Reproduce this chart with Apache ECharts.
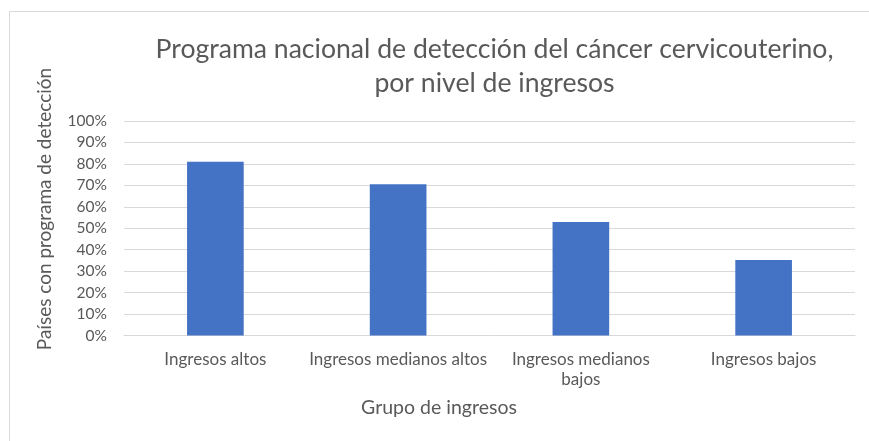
<!DOCTYPE html>
<html><head><meta charset="utf-8">
<script src="https://cdn.jsdelivr.net/npm/echarts@6/dist/echarts.min.js"></script>
<style>html,body{margin:0;padding:0;background:#fff}#c{width:869px;height:441px}</style>
</head><body><div id="c"></div>
<script>
const titleText = 'Programa nacional de detección del cáncer cervicouterino,\npor nivel de ingresos';
const categories = ['Ingresos altos', 'Ingresos medianos altos', 'Ingresos medianos bajos', 'Ingresos bajos'];
const values = [0.81, 0.705, 0.529, 0.352];
const yTicks = [0, 0.1, 0.2, 0.3, 0.4, 0.5, 0.6, 0.7, 0.8, 0.9, 1.0];
const xTitle = 'Grupo de ingresos';
const yTitle = 'Países con programa de detección';

const FONT = 'Lato';
const chart = echarts.init(document.getElementById('c'), null, {renderer: 'canvas'});
chart.setOption({
  backgroundColor: '#fff',
  animation: false,
  title: {
    text: titleText, left: 489.5, top: 27, textAlign: 'center',
    textStyle: {fontFamily: FONT, fontSize: 26.6, fontWeight: 'normal', color: '#595959', lineHeight: 34}
  },
  grid: {left: 124, right: 14, top: 121, bottom: 105.5, containLabel: false},
  xAxis: {
    type: 'category', data: categories,
    axisLine: {show: true, lineStyle: {color: '#d9d9d9'}},
    axisTick: {show: false},
    axisLabel: {
      fontFamily: FONT, fontSize: 17, color: '#595959', margin: 14, lineHeight: 20, interval: 0,
      formatter: v => v === 'Ingresos medianos bajos' ? 'Ingresos medianos\nbajos' : v
    }
  },
  yAxis: {
    type: 'value', min: yTicks[0], max: yTicks[yTicks.length - 1], interval: 0.1,
    axisLine: {show: false}, axisTick: {show: false},
    splitLine: {lineStyle: {color: '#d9d9d9', width: 1}},
    axisLabel: {fontFamily: FONT, fontSize: 15.5, color: '#595959', margin: 17,
      formatter: v => Math.round(v * 100) + '%'}
  },
  series: [{
    type: 'bar', data: values, barWidth: '31%',
    itemStyle: {color: '#4472c4'}
  }],
  graphic: [
    {type: 'rect', shape: {x: 9.5, y: 11.5, width: 900, height: 500}, style: {fill: null, stroke: '#d9d9d9', lineWidth: 1}, silent: true, z: -1},
    {type: 'text', x: 439, y: 408, style: {text: xTitle, fontFamily: FONT, fontSize: 19.5, fill: '#595959', textAlign: 'center', textVerticalAlign: 'middle'}},
    {type: 'text', x: 45, y: 209, rotation: Math.PI / 2, style: {text: yTitle, fontFamily: FONT, fontSize: 19, fill: '#595959', textAlign: 'center', textVerticalAlign: 'middle'}}
  ]
});
</script></body></html>
